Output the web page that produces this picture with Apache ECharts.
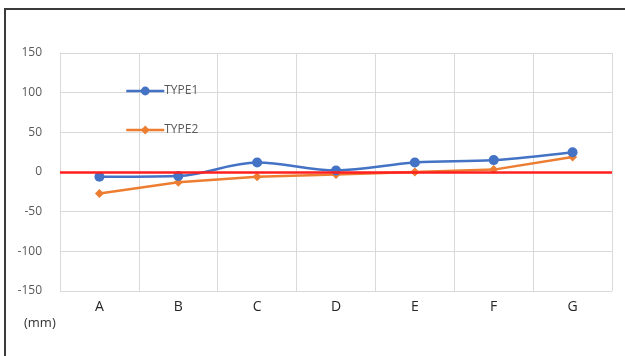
<!DOCTYPE html>
<html>
<head>
<meta charset="utf-8">
<script src="https://cdn.jsdelivr.net/npm/echarts@6/dist/echarts.min.js"></script>
<style>
  html, body { margin: 0; padding: 0; background: #fff; }
  #chart { width: 625px; height: 356px; }
</style>
</head>
<body>
<div id="chart"></div>
<script>
// Measurement points and deviation values (mm)
var categories = ['A', 'B', 'C', 'D', 'E', 'F', 'G'];
var type1 = [-6, -5, 12, 2, 12, 15, 25];
var type2 = [-27, -13, -6, -3, 0, 3, 19];
var referenceLevel = 0;
var yTicks = { min: -150, max: 150, step: 50 };

var chart = echarts.init(document.getElementById('chart'));
var labelFont = '"Open Sans", "Liberation Sans", sans-serif';

chart.setOption({
  animation: false,
  backgroundColor: '#ffffff',
  grid: { left: 60, right: 13, top: 53, bottom: 65 },
  title: {
    text: '(mm)',
    left: 19,
    top: 312,
    textStyle: { fontFamily: labelFont, fontSize: 13, fontWeight: 'normal', color: '#333333' }
  },
  legend: {
    orient: 'vertical',
    left: 120,
    top: 80,
    itemWidth: 38,
    itemHeight: 11,
    itemGap: 27,
    lineStyle: { width: 2.5 },
    textStyle: { fontFamily: labelFont, fontSize: 12, color: '#595959', padding: [0, 0, 0, -5] },
    data: ['TYPE1', 'TYPE2']
  },
  xAxis: {
    type: 'category',
    data: categories,
    boundaryGap: true,
    axisLine: { show: true, lineStyle: { color: '#d9d9d9', width: 1 } },
    axisTick: { show: false },
    axisLabel: { fontFamily: labelFont, fontSize: 14, color: '#262626', margin: 9 },
    splitLine: { show: true, lineStyle: { color: '#d9d9d9', width: 1 } }
  },
  yAxis: {
    type: 'value',
    min: yTicks.min,
    max: yTicks.max,
    interval: yTicks.step,
    axisLine: { show: true, lineStyle: { color: '#d9d9d9', width: 1 } },
    axisTick: { show: false },
    axisLabel: { fontFamily: labelFont, fontSize: 12, color: '#595959', margin: 18 },
    splitLine: { show: true, lineStyle: { color: '#d9d9d9', width: 1 } }
  },
  graphic: [
    { type: 'line', shape: { x1: 4, y1: 9, x2: 625, y2: 9 }, style: { stroke: '#3a3a3a', lineWidth: 2 } },
    { type: 'line', shape: { x1: 5, y1: 8, x2: 5, y2: 356 }, style: { stroke: '#3a3a3a', lineWidth: 2 } }
  ],
  series: [
    {
      name: 'reference',
      type: 'line',
      data: [],
      z: 1,
      silent: true,
      markLine: {
        silent: true,
        symbol: 'none',
        label: { show: false },
        lineStyle: { color: '#ff1f1f', width: 2.5, type: 'solid' },
        data: [{ yAxis: referenceLevel }]
      }
    },
    {
      name: 'TYPE1',
      type: 'line',
      data: type1,
      smooth: 0.35,
      z: 3,
      symbol: 'circle',
      symbolSize: 10,
      itemStyle: { color: '#4472c4' },
      lineStyle: { color: '#4472c4', width: 2.5 }
    },
    {
      name: 'TYPE2',
      type: 'line',
      data: type2,
      z: 2,
      symbol: 'diamond',
      symbolSize: 9,
      itemStyle: { color: '#ed7d31' },
      lineStyle: { color: '#ed7d31', width: 2.5 }
    }
  ]
});
</script>
</body>
</html>
